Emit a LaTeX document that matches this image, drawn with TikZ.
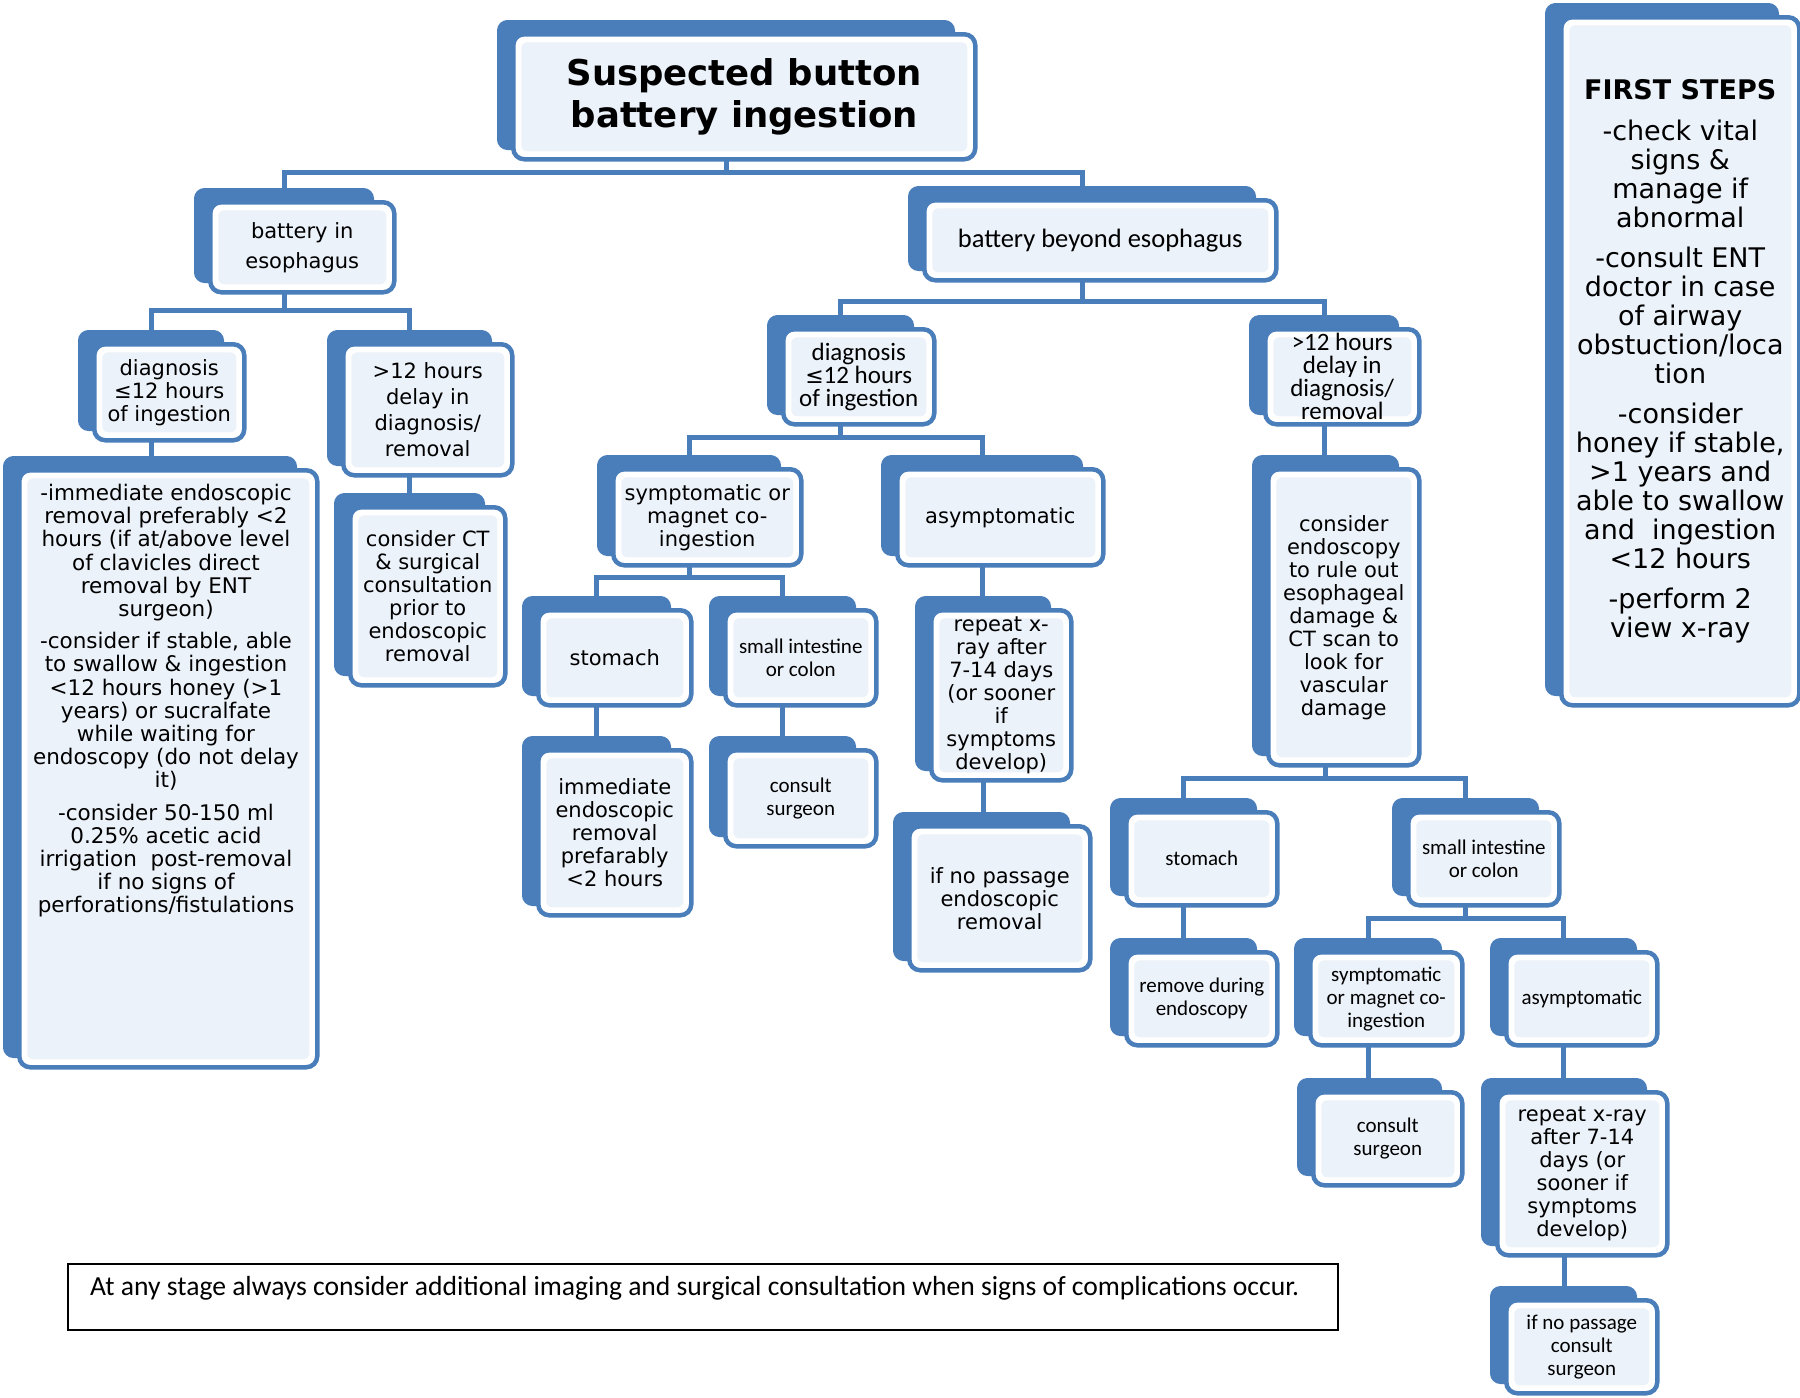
\documentclass[tikz,border=0pt]{standalone}
\usepackage{fontspec}
\setmainfont{DejaVu Sans}
\newfontfamily\carl{Carlito}
\usetikzlibrary{calc}
\pgfdeclarelayer{bg}
\pgfsetlayers{bg,main}
\definecolor{bblue}{RGB}{74,126,187}
\definecolor{binner}{RGB}{236,242,250}
\tikzset{
  backbox/.style={fill=bblue, draw=bblue, line width=1pt, rounded corners=10pt, inner sep=0pt},
  frontbox/.style={draw=bblue, line width=4.5pt, fill=white, rounded corners=11pt, inner sep=1pt, align=center,
    path picture={\fill[binner, rounded corners=6pt] ([shift={(8pt,8pt)}]path picture bounding box.south west) rectangle ([shift={(-8pt,-8pt)}]path picture bounding box.north east);}},
  vt/.style={font=\fontsize{21}{23}\selectfont},
  ct/.style={font=\carl\fontsize{21}{23}\selectfont},
  ctl/.style={font=\carl\fontsize{25}{23}\selectfont},
  titlet/.style={font=\bfseries\fontsize{35.5}{42}\selectfont},
  fst/.style={font=\fontsize{27}{29}\selectfont},
  conn/.style={draw=bblue, line width=5pt},
}
\newcommand\flowbox[7]{%
  \node[backbox, anchor=north west, minimum width={(#4)-(#2)-5}, minimum height={(#5)-(#3)+4}] (#1b) at ({(#2)-14},{(#3)-12}) {};
  \node[frontbox, anchor=north west, minimum width={(#4)-(#2)}, minimum height={(#5)-(#3)}, #6] (#1) at (#2,#3) {#7};
}
\begin{document}
\begin{tikzpicture}[x=1pt,y=-1pt]
\useasboundingbox (0,0) rectangle (1800,1398);

\flowbox{title}{511}{32}{973}{157}{titlet}{Suspected button\\battery ingestion}
\flowbox{inesoph}{208}{200}{392}{290}{font=\fontsize{21}{30}\selectfont}{battery in\\esophagus}
\flowbox{beyond}{922}{198}{1274}{278}{font=\carl\fontsize{26.5}{30}\selectfont}{battery beyond esophagus}
\flowbox{diagL}{92}{342}{242}{438}{vt}{diagnosis\\≤12 hours\\of ingestion}
\flowbox{delayL}{341}{342}{510}{473}{font=\fontsize{21}{26}\selectfont}{>12 hours\\delay in\\diagnosis/\\removal}
\flowbox{big}{17}{468}{315}{1065}{vt}{}
\node[font=\fontsize{21.5}{23.2}\selectfont, align=center, anchor=north, inner sep=0pt] (bigt) at (166,484) {-immediate endoscopic\\removal preferably <2\\hours (if at/above level\\of clavicles direct\\removal by ENT\\surgeon)\\[9pt]-consider if stable, able\\to swallow \& ingestion\\<12 hours honey (>1\\years) or sucralfate\\while waiting for\\endoscopy (do not delay\\it)\\[9pt]-consider 50-150 ml\\0.25\% acetic acid\\irrigation\ \ post-removal\\if no signs of\\perforations/fistulations};
\flowbox{ct}{348}{505}{503}{683}{vt}{consider CT\\\& surgical\\consultation\\prior to\\endoscopic\\removal}
\flowbox{diagM}{781}{327}{932}{422}{ctl}{diagnosis\\{\rmfamily\fontsize{22}{23}\selectfont ≤}12 hours\\of ingestion}
\flowbox{delayR}{1263}{327}{1417}{422}{ctl}{>12 hours\\delay in\\diagnosis/\\removal}
\flowbox{sympM}{611}{467}{799}{563}{vt}{symptomatic or\\magnet co-\\ingestion}
\flowbox{asymM}{895}{467}{1101}{563}{vt}{asymptomatic}
\flowbox{stomM}{536}{608}{689}{703}{vt}{stomach}
\flowbox{siM}{723}{608}{874}{703}{ct}{small intestine\\or colon}
\flowbox{repM}{929}{608}{1069}{778}{vt}{repeat x-\\ray after\\7-14 days\\(or sooner\\if\\symptoms\\develop)}
\flowbox{immM}{536}{748}{689}{913}{vt}{immediate\\endoscopic\\removal\\prefarably\\<2 hours}
\flowbox{consM}{723}{748}{874}{844}{ct}{consult\\surgeon}
\flowbox{passM}{907}{824}{1088}{968}{vt}{if no passage\\endoscopic\\removal}
\flowbox{endo}{1266}{467}{1417}{763}{vt}{consider\\endoscopy\\to rule out\\esophageal\\damage \&\\CT scan to\\look for\\vascular\\damage}
\flowbox{stomR}{1124}{810}{1275}{903}{ct}{stomach}
\flowbox{siR}{1406}{810}{1557}{903}{ct}{small intestine\\or colon}
\flowbox{remR}{1124}{950}{1275}{1043}{ct}{remove during\\endoscopy}
\flowbox{sympR}{1308}{950}{1460}{1043}{ct}{symptomatic\\or magnet co-\\ingestion}
\flowbox{asymR}{1504}{950}{1655}{1043}{ct}{asymptomatic}
\flowbox{consR}{1311}{1090}{1460}{1183}{ct}{consult\\surgeon}
\flowbox{repR}{1495}{1090}{1665}{1253}{vt}{repeat x-ray\\after 7-14\\days (or\\sooner if\\symptoms\\develop)}
\flowbox{passR}{1504}{1298}{1655}{1391}{ct}{if no passage\\consult\\surgeon}
\flowbox{first}{1559}{15}{1797}{703}{fst}{{\bfseries FIRST STEPS}\\[12pt]-check vital\\signs \&\\manage if\\abnormal\\[11pt]-consult ENT\\doctor in case\\of airway\\obstuction/loca\\tion\\[11pt]-consider\\honey if stable,\\>1 years and\\able to swallow\\and\ \ ingestion\\<12 hours\\[11pt]-perform 2\\view x-ray}

\node[draw=black, line width=2pt, minimum width=1270, minimum height=66, anchor=north west, inner sep=0pt] (note) at (67,1263) {};
\node[font=\carl\fontsize{27.6}{30}\selectfont, anchor=west, inner sep=0pt] (notet) at (90,1288) {At any stage always consider additional imaging and surgical consultation when signs of complications occur.};

\begin{pgfonlayer}{bg}
\fill[white] (0,0) rectangle (1800,1398);
\coordinate (j0) at (0,172);
\draw[conn] (titleb.south) -- (titleb.south |- j0);
\draw[conn] (inesophb.north) -- (inesophb.north |- j0) -- (beyondb.north |- j0) -- (beyondb.north);
\coordinate (j1) at (0,310);
\draw[conn] (inesophb.south) -- (inesophb.south |- j1);
\draw[conn] (diagLb.north) -- (diagLb.north |- j1) -- (delayLb.north |- j1) -- (delayLb.north);
\draw[conn] (diagLb.south) -- (diagLb.south |- bigb.north);
\draw[conn] (delayLb.south) -- (delayLb.south |- ctb.north);
\coordinate (j2) at (0,301);
\draw[conn] (beyondb.south) -- (beyondb.south |- j2);
\draw[conn] (diagMb.north) -- (diagMb.north |- j2) -- (delayRb.north |- j2) -- (delayRb.north);
\coordinate (j3) at (0,437);
\draw[conn] (diagMb.south) -- (diagMb.south |- j3);
\draw[conn] (sympMb.north) -- (sympMb.north |- j3) -- (asymMb.north |- j3) -- (asymMb.north);
\coordinate (j4) at (0,577);
\draw[conn] (sympMb.south) -- (sympMb.south |- j4);
\draw[conn] (stomMb.north) -- (stomMb.north |- j4) -- (siMb.north |- j4) -- (siMb.north);
\draw[conn] (stomMb.south) -- (stomMb.south |- immMb.north);
\draw[conn] (siMb.south) -- (siMb.south |- consMb.north);
\draw[conn] (asymMb.south) -- (asymMb.south |- repMb.north);
\draw[conn] (repMb.south) -- (repMb.south |- passMb.north);
\draw[conn] (delayRb.south) -- (delayRb.south |- endob.north);
\coordinate (j5) at (0,778);
\draw[conn] (endob.south) -- (endob.south |- j5);
\draw[conn] (stomRb.north) -- (stomRb.north |- j5) -- (siRb.north |- j5) -- (siRb.north);
\draw[conn] (stomRb.south) -- (stomRb.south |- remRb.north);
\coordinate (j6) at (0,918);
\draw[conn] (siRb.south) -- (siRb.south |- j6);
\draw[conn] (sympRb.north) -- (sympRb.north |- j6) -- (asymRb.north |- j6) -- (asymRb.north);
\draw[conn] (sympRb.south) -- (sympRb.south |- consRb.north);
\draw[conn] (asymRb.south) -- (asymRb.south |- repRb.north);
\draw[conn] (repRb.south) -- (repRb.south |- passRb.north);
\end{pgfonlayer}
\end{tikzpicture}
\end{document}
